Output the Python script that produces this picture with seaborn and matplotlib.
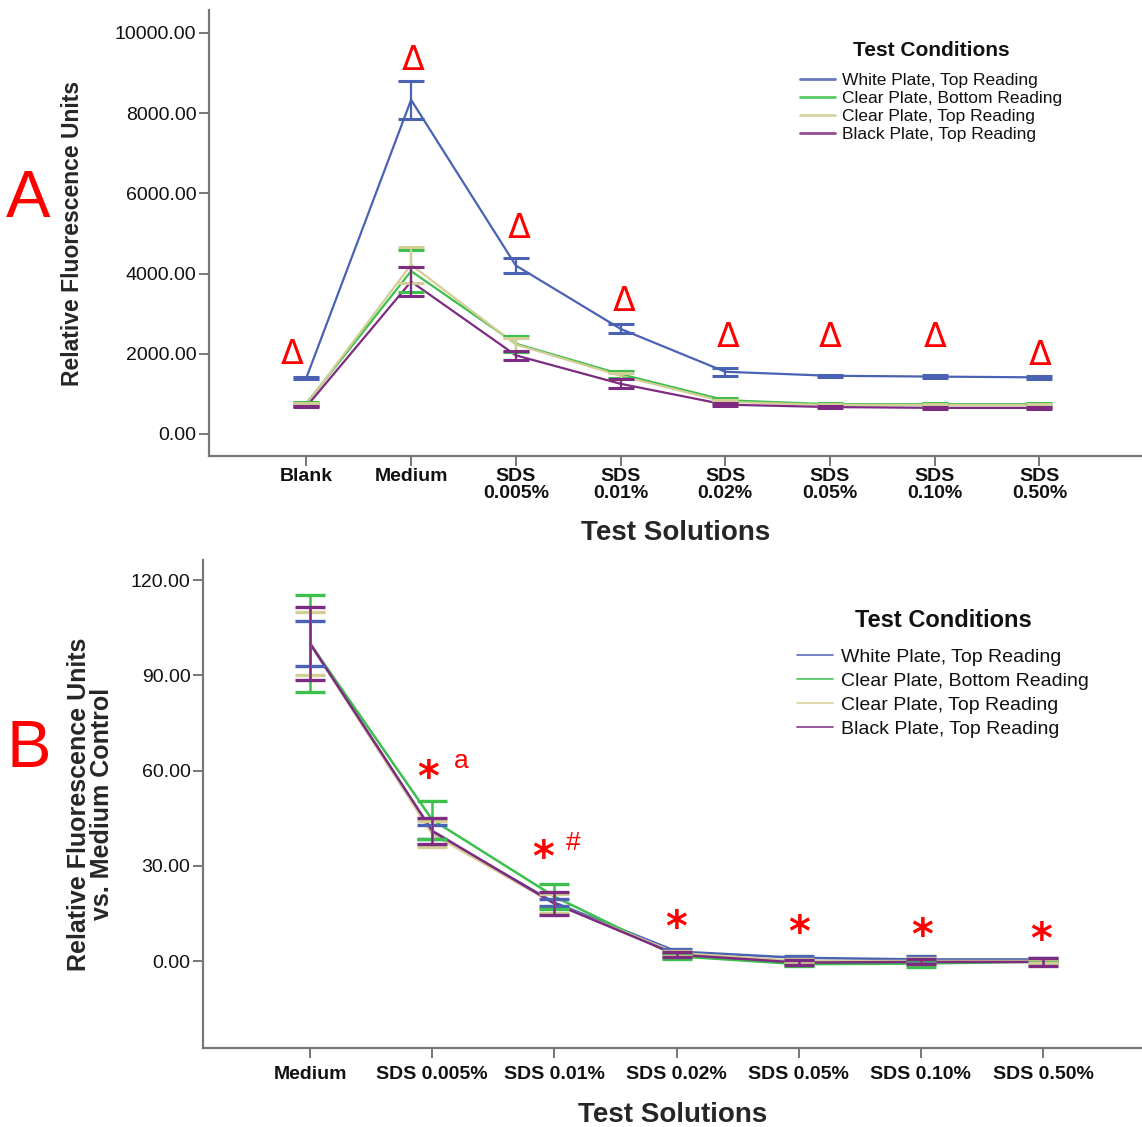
import matplotlib
matplotlib.use("Agg")
import matplotlib.pyplot as plt
import numpy as np
import pandas as pd
import seaborn as sns

# ---- data -------------------------------------------------------------
conditions = ["White Plate, Top Reading", "Clear Plate, Bottom Reading",
              "Clear Plate, Top Reading", "Black Plate, Top Reading"]
colors = ["#4a62b3", "#3cbf4c", "#d3cd96", "#7d2b81"]

solutions_a = ["Blank", "Medium", "SDS\n0.005%", "SDS\n0.01%", "SDS\n0.02%",
               "SDS\n0.05%", "SDS\n0.10%", "SDS\n0.50%"]
white_a = [1400, 8330, 4200, 2620, 1550, 1450, 1430, 1410]
white_a_err = [25, 480, 185, 110, 100, 30, 40, 30]
clear_bottom_a = [760, 4060, 2250, 1490, 840, 740, 740, 740]
clear_bottom_a_err = [25, 520, 200, 90, 50, 20, 30, 20]
clear_top_a = [740, 4220, 2230, 1450, 800, 720, 720, 720]
clear_top_a_err = [20, 450, 150, 80, 40, 20, 20, 20]
black_a = [680, 3800, 1960, 1250, 730, 670, 650, 650]
black_a_err = [20, 360, 120, 110, 30, 20, 20, 20]

solutions_b = ["Medium", "SDS 0.005%", "SDS 0.01%", "SDS 0.02%",
               "SDS 0.05%", "SDS 0.10%", "SDS 0.50%"]
white_b = [100, 40.6, 18.4, 3.0, 1.0, 0.5, 0.5]
white_b_err = [7.0, 2.3, 1.0, 0.8, 0.5, 1.2, 0.5]
clear_bottom_b = [100, 44.5, 20.3, 1.5, -1.0, -0.8, -0.2]
clear_bottom_b_err = [15.4, 6.0, 4.0, 0.8, 0.7, 1.0, 0.5]
clear_top_b = [100, 40.0, 18.0, 2.5, 0.0, 0.0, 0.0]
clear_top_b_err = [10.0, 4.0, 3.0, 0.8, 0.6, 0.8, 0.6]
black_b = [100, 41.0, 18.1, 2.0, -0.5, -0.3, -0.3]
black_b_err = [11.6, 4.0, 3.6, 0.8, 0.7, 0.8, 1.2]

marks_a = ["Δ"] * 8
marks_b = ["", "*", "*", "*", "*", "*", "*"]
extra_b = {1: "a", 2: "#"}

# label offsets (pixels) from the top of the highest error bar
offsets_a = [(-14, 22), (2, 20), (3, 30), (4, 23), (3, 30), (0, 37), (1, 37), (1, 21)]
offsets_b = [(0, 0), (-4, 1), (-11, 4), (0, -1), (0, 1), (1, -2), (-2, -4)]
offsets_extra = {1: (29, 28), 2: (19, 29)}

# ---- style ------------------------------------------------------------
sns.set_theme(style="ticks")
plt.rcParams["font.family"] = ["Liberation Sans", "DejaVu Sans"]
plt.rcParams["text.color"] = "#111111"
grey = "#777777"

fig = plt.figure(figsize=(11.42, 11.27), dpi=100)
ax_a = fig.add_axes([0.183, 0.5954, 0.817, 0.3957])
ax_b = fig.add_axes([0.1778, 0.0701, 0.8222, 0.4330])


def long_frame(solutions, series, errors):
    rows = []
    for name, vals, errs in zip(conditions, series, errors):
        for i, (v, e) in enumerate(zip(vals, errs)):
            rows.append({"pos": i, "solution": solutions[i],
                         "condition": name, "value": v, "err": e})
    return pd.DataFrame(rows)


def draw_panel(ax, df, capsize, lw):
    sns.lineplot(data=df, x="pos", y="value", hue="condition",
                 hue_order=conditions, palette=colors, sort=False,
                 errorbar=None, linewidth=lw, ax=ax, legend=True)
    for name, col in zip(conditions, colors):
        sub = df[df["condition"] == name]
        ax.errorbar(sub["pos"], sub["value"], yerr=sub["err"], fmt="none",
                    ecolor=col, elinewidth=lw, capsize=capsize,
                    capthick=lw + 0.6)


def style_axes(ax):
    sns.despine(ax=ax)
    for side in ("left", "bottom"):
        ax.spines[side].set_color(grey)
        ax.spines[side].set_linewidth(1.6)
    ax.tick_params(axis="both", direction="out", length=7, width=1.4,
                   color=grey, pad=2, labelcolor="#111111")


def error_top(df, i):
    sub = df[df["pos"] == i]
    return (sub["value"] + sub["err"]).max()


def add_legend(ax, anchor, size, title_size, handlelength, spacing, title_gap,
               handle_lw):
    leg = ax.legend(title="Test Conditions", loc="upper left",
                    bbox_to_anchor=anchor, frameon=False, fontsize=size,
                    title_fontproperties={"weight": "bold", "size": title_size},
                    handlelength=handlelength, handletextpad=0.4,
                    labelspacing=spacing, borderpad=0)
    leg._legend_box.align = "center"
    leg._legend_box.sep = title_gap
    for line in leg.get_lines():
        line.set_linewidth(handle_lw)
        line.set_alpha(0.85)
    return leg


# ---- panel A ----------------------------------------------------------
df_a = long_frame(solutions_a,
                  [white_a, clear_bottom_a, clear_top_a, black_a],
                  [white_a_err, clear_bottom_a_err, clear_top_a_err, black_a_err])
draw_panel(ax_a, df_a, capsize=9.5, lw=1.6)
style_axes(ax_a)
ax_a.set_xlim(-0.93, 7.98)
ax_a.set_ylim(-550, 10570)
ax_a.set_yticks(np.arange(0, 10001, 2000))
ax_a.set_yticklabels([f"{v:.2f}" for v in np.arange(0, 10001, 2000)], fontsize=14)
ax_a.set_xticks(range(len(solutions_a)))
ax_a.set_xticklabels(solutions_a, fontsize=14, fontweight="bold", linespacing=0.95)
ax_a.set_xlabel("Test Solutions", fontsize=20, fontweight="bold", labelpad=13)
ax_a.set_ylabel("Relative Fluorescence Units", fontsize=16.5, fontweight="bold",
                labelpad=22)

for i, m in enumerate(marks_a):
    ax_a.annotate(m, (i, error_top(df_a, i)), xytext=offsets_a[i],
                  textcoords="offset pixels", ha="center", va="center",
                  color="red", fontsize=24, family=["DejaVu Sans"])

add_legend(ax_a, (0.6245, 0.95), size=12.5, title_size=15, handlelength=2.0,
           spacing=0.17, title_gap=9, handle_lw=2.0)

# ---- panel B ----------------------------------------------------------
df_b = long_frame(solutions_b,
                  [white_b, clear_bottom_b, clear_top_b, black_b],
                  [white_b_err, clear_bottom_b_err, clear_top_b_err, black_b_err])
draw_panel(ax_b, df_b, capsize=11, lw=1.8)
style_axes(ax_b)
ax_b.set_xlim(-0.876, 6.81)
ax_b.set_ylim(-27.4, 126.3)
ax_b.set_yticks(np.arange(0, 121, 30))
ax_b.set_yticklabels([f"{v:.2f}" for v in np.arange(0, 121, 30)], fontsize=14)
ax_b.set_xticks(range(len(solutions_b)))
ax_b.set_xticklabels(solutions_b, fontsize=14, fontweight="bold")
ax_b.tick_params(axis="x", pad=6)
ax_b.set_xlabel("Test Solutions", fontsize=20, fontweight="bold", labelpad=14)
ax_b.set_ylabel("Relative Fluorescence Units\nvs. Medium Control", fontsize=18,
                fontweight="bold", labelpad=12, linespacing=0.95)

for i, m in enumerate(marks_b):
    if not m:
        continue
    top = error_top(df_b, i)
    ax_b.annotate(m, (i, top), xytext=offsets_b[i], textcoords="offset pixels",
                  ha="center", va="bottom", color="red", fontsize=30,
                  fontweight="bold", family=["DejaVu Sans"])
    if i in extra_b:
        ax_b.annotate(extra_b[i], (i, top), xytext=offsets_extra[i],
                      textcoords="offset pixels", ha="center", va="bottom",
                      color="red", fontsize=19)

add_legend(ax_b, (0.6225, 0.92), size=14, title_size=17, handlelength=1.85,
           spacing=0.33, title_gap=12, handle_lw=1.3)

# panel letters
fig.text(0.025, 0.8226, "A", color="red", fontsize=48, ha="center", va="center")
fig.text(0.025, 0.3345, "B", color="red", fontsize=48, ha="center", va="center")

fig.savefig("out.png", dpi=100)
